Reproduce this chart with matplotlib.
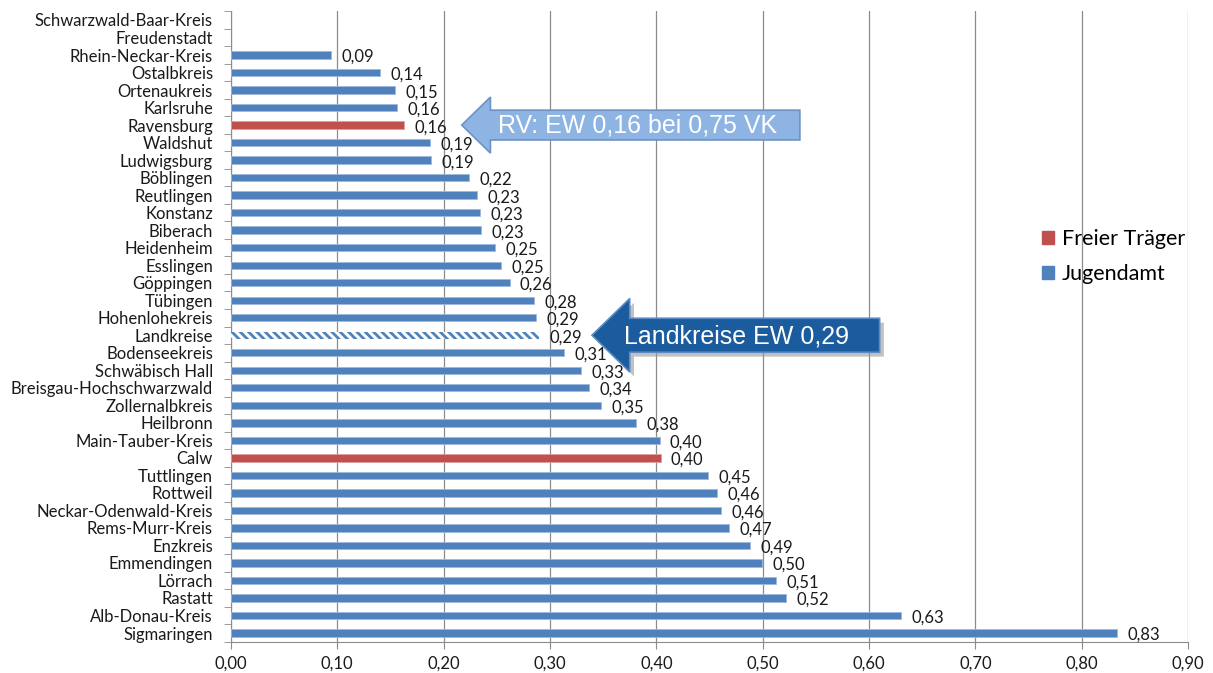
import matplotlib.pyplot as plt
import matplotlib.ticker as tick
from matplotlib.patches import Patch, Polygon

plt.rcParams["font.family"] = ["Lato", "DejaVu Sans"]
plt.rcParams["hatch.linewidth"] = 2.0

categories = [
    "Schwarzwald-Baar-Kreis", "Freudenstadt", "Rhein-Neckar-Kreis", "Ostalbkreis",
    "Ortenaukreis", "Karlsruhe", "Ravensburg", "Waldshut", "Ludwigsburg", "Böblingen",
    "Reutlingen", "Konstanz", "Biberach", "Heidenheim", "Esslingen", "Göppingen",
    "Tübingen", "Hohenlohekreis", "Landkreise", "Bodenseekreis", "Schwäbisch Hall",
    "Breisgau-Hochschwarzwald", "Zollernalbkreis", "Heilbronn", "Main-Tauber-Kreis",
    "Calw", "Tuttlingen", "Rottweil", "Neckar-Odenwald-Kreis", "Rems-Murr-Kreis",
    "Enzkreis", "Emmendingen", "Lörrach", "Rastatt", "Alb-Donau-Kreis", "Sigmaringen",
]
values = [
    None, None, 0.094, 0.140, 0.154, 0.156, 0.163, 0.187, 0.188, 0.224,
    0.231, 0.234, 0.235, 0.248, 0.254, 0.262, 0.285, 0.287, 0.290, 0.313,
    0.329, 0.337, 0.348, 0.381, 0.403, 0.404, 0.449, 0.457, 0.461, 0.468,
    0.488, 0.499, 0.513, 0.522, 0.630, 0.833,
]
freier_traeger = ["Ravensburg", "Calw"]
average = "Landkreise"

blue = "#4F81BD"
red = "#C0504D"
grey = "#8C8C8C"

fig = plt.figure(figsize=(12.13, 6.73), dpi=100)
ax = fig.add_axes([0.1904, 0.0464, 0.7890, 0.9369])

for i, (cat, v) in enumerate(zip(categories, values)):
    if v is None:
        continue
    if cat == average:
        ax.barh(i, v, height=0.38, color="white", edgecolor=blue, hatch="\\\\\\\\",
                linewidth=0, zorder=3)
    else:
        col = red if cat in freier_traeger else blue
        ax.barh(i, v, height=0.42, color=col, edgecolor="#9DB9DC" if col == blue else "#E0A09E",
                linewidth=0.6, zorder=3)
    ax.annotate(f"{v:.2f}".replace(".", ","), (v, i), xytext=(7.5, -1.5),
                textcoords="offset points", va="center", ha="left", fontsize=12,
                color="#1a1a1a", zorder=4)

ax.set_xlim(0, 0.9)
ax.set_ylim(len(categories) - 0.5, -0.5)
ax.xaxis.set_major_locator(tick.MultipleLocator(0.1))
ax.xaxis.set_major_formatter(tick.FuncFormatter(lambda x, _: f"{x:.2f}".replace(".", ",")))
ax.set_yticks(range(len(categories)))
ax.set_yticklabels(categories)
ax.yaxis.set_minor_locator(tick.FixedLocator([i - 0.5 for i in range(len(categories) + 1)]))
ax.tick_params(axis="y", which="major", length=0, pad=13, labelsize=12, labelcolor="#1a1a1a")
ax.tick_params(axis="y", which="minor", length=5, color=grey)
ax.tick_params(axis="x", length=5, color=grey, labelsize=12, labelcolor="#1a1a1a", pad=5)
ax.grid(axis="x", color=grey, linewidth=0.9, zorder=0)
for side in ["top", "right"]:
    ax.spines[side].set_visible(False)
for side in ["left", "bottom"]:
    ax.spines[side].set_color(grey)

# arrow: Ravensburg
iy = categories.index("Ravensburg")
rv = [(0.217, iy), (0.244, iy - 1.6), (0.244, iy - 0.85), (0.535, iy - 0.85),
      (0.535, iy + 0.85), (0.244, iy + 0.85), (0.244, iy + 1.6)]
ax.add_patch(Polygon(rv, closed=True, facecolor="#8EB4E3", edgecolor="#6E91C6",
                     linewidth=1.2, zorder=6, clip_on=False))
ax.text(0.251, iy + 0.05, "RV: EW 0,16 bei 0,75 VK", color="white", fontsize=18,
        family=["Liberation Sans"], va="center", ha="left", zorder=7)

# arrow: Landkreise
iy = categories.index(average)
lk = [(0.3395, iy), (0.375, iy - 2.1), (0.375, iy - 0.97), (0.610, iy - 0.97),
      (0.610, iy + 0.97), (0.375, iy + 0.97), (0.375, iy + 2.1)]
shadow = [(x + 0.004, y + 0.25) for x, y in lk]
ax.add_patch(Polygon(shadow, closed=True, facecolor="#9A9A9A", edgecolor="none",
                     alpha=0.6, zorder=5, clip_on=False))
ax.add_patch(Polygon(lk, closed=True, facecolor="#1B5C9E", edgecolor="#5A8AC0",
                     linewidth=1.2, zorder=6, clip_on=False))
ax.text(0.370, iy + 0.05, "Landkreise EW 0,29", color="white", fontsize=18,
        family=["Liberation Sans"], va="center", ha="left", zorder=7)

handles = [Patch(color=red, label="Freier Träger"), Patch(color=blue, label="Jugendamt")]
fig.legend(handles=handles, loc="upper left", bbox_to_anchor=(1023 / 1213, 1 - 210 / 673),
           frameon=False, fontsize=15.5, handlelength=0.55, handleheight=0.55,
           handletextpad=0.35, labelspacing=0.7)

fig.savefig("out.png", dpi=100)
